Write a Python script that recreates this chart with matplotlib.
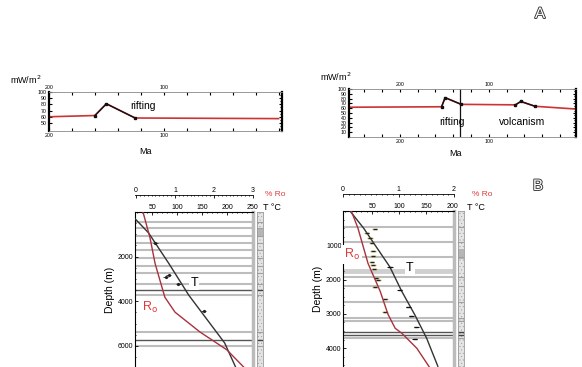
import numpy as np
import matplotlib
matplotlib.use('Agg')
import matplotlib.pyplot as plt
import matplotlib.patheffects as pe
from matplotlib.ticker import MultipleLocator, FuncFormatter

plt.rcParams['font.family'] = ['Liberation Sans', 'DejaVu Sans']
plt.rcParams['hatch.linewidth'] = 0.3

# ---- panel A: heat flow history (Ma, mW/m2)
ma_left = [200, 160, 150, 125, 0]
hf_left = [60, 62, 81, 58, 57]
ma_right = [257, 153, 149, 131, 70, 64, 48, 0]
hf_right = [62, 63, 82, 68, 67, 74, 64, 58]
break_right = 132

# ---- panel B, left well
t_depth_l = [300, 930, 2310, 3730, 5870, 6950]
t_l = [15, 42, 83, 123, 195, 217]
ro_depth_l = [0, 1160, 2310, 3820, 4490, 5380, 6180, 6950]
ro_l = [0.18, 0.36, 0.49, 0.74, 1.0, 1.64, 2.33, 2.76]
bht_depth_l = [1380, 2840, 2930, 3240, 4440]
bht_l = [56, 83, 77, 102, 153]
layers_l = [430, 730, 1070, 1390, 1700, 2060, 2400, 2740, 3240, 3730, 5360, 5990]
dark_layers_l = [3510, 5730]

# ---- panel B, right well
t_depth_r = [0, 495, 1632, 2341, 3020, 3703, 4528]
t_r = [9, 34, 83, 105, 129, 151, 172]
ro_depth_r = [0, 504, 1525, 2341, 3012, 3420, 3566, 4003, 4586]
ro_r = [0.15, 0.27, 0.45, 0.67, 0.81, 0.94, 1.06, 1.33, 1.57]
meas_depth_r = [525, 640, 786, 932, 1175, 1320, 1486, 1563, 1680, 1953, 2000, 2224, 2554, 2953]
meas_r = [55, 40, 46, 49, 52, 52, 49, 52, 54, 58, 61, 55, 74, 74]
bht_depth_r = [1632, 2312, 2808, 3070, 3382, 3720]
bht_r = [83, 101, 117, 123, 132, 129]
layers_r = [460, 900, 1350, 1925, 2180, 2640, 3125, 3220, 3710]
thick_layers_r = [1760]
dark_layers_r = [3515, 3615]

W, H = 582, 367
fig = plt.figure(figsize=(W / 100, H / 100), dpi=100)


def box(x0, y0, x1, y1):
    return [x0 / W, 1 - y1 / H, (x1 - x0) / W, (y1 - y0) / H]


def heat_panel(rect, ma, hf, xlim, ylim, yticks, black_segs):
    ax = fig.add_axes(rect)
    ax.plot(ma, hf, color='#cc3333', lw=1.2)
    for i0, i1 in black_segs:
        ax.plot(ma[i0:i1 + 1], hf[i0:i1 + 1], color='#111111', lw=1.0,
                marker='s', ms=1.6)
    ax.set_xlim(xlim)
    ax.set_ylim(ylim)
    ax.xaxis.set_major_locator(MultipleLocator(20))
    ax.xaxis.set_major_formatter(FuncFormatter(
        lambda v, p: str(int(round(v))) if int(round(v)) in (100, 200) else ''))
    ax.set_yticks(yticks)
    ax.yaxis.set_minor_locator(MultipleLocator(5))
    ax.tick_params(axis='both', which='both', labelsize=3.8, top=True,
                   labeltop=True, right=True, direction='in', length=2.5,
                   width=0.8, pad=1.5)
    ax.tick_params(axis='y', which='minor', length=1.5, left=False)
    for s in ('left', 'right'):
        ax.spines[s].set_linewidth(1.6)
    for s in ('top', 'bottom'):
        ax.spines[s].set_linewidth(0.6)
        ax.spines[s].set_color('#888888')
    return ax


axl = heat_panel(box(49, 92, 282, 131), ma_left, hf_left, (200, -3), (37, 100),
                 range(50, 101, 10), [(1, 3)])
axl.text(118, 77, 'rifting', fontsize=7.5, ha='center', va='center')

axr = heat_panel(box(349, 89, 576, 137), ma_right, hf_right, (257, 2), (0, 100),
                 range(10, 101, 10), [(1, 3), (4, 6)])
axr.axvline(break_right, color='#111111', lw=0.9)
axr.text(141, 31, 'rifting', fontsize=7.5, ha='center', va='center')
axr.text(63, 31, 'volcanism', fontsize=7.5, ha='center', va='center')

fig.text(10 / W, 1 - 80 / H, 'mW/m$^2$', fontsize=6.5, va='center')
fig.text(320 / W, 1 - 77 / H, 'mW/m$^2$', fontsize=6.5, va='center')
fig.text(146 / W, 1 - 152 / H, 'Ma', fontsize=6.5, ha='center', va='center')
fig.text(456 / W, 1 - 153 / H, 'Ma', fontsize=6.5, ha='center', va='center')


def well_panel(rect, crect, tlim, rolim, dmax, tticks, roticks, dstep,
               layers, dark_layers, thick_layers, dark_band):
    ax = fig.add_axes(rect)
    ax.set_xlim(tlim)
    ax.set_ylim(dmax, 0)
    for d in layers:
        ax.axhline(d, color='#bdbdbd', lw=1.5, zorder=1)
    for d in thick_layers:
        ax.axhline(d, color='#cfcfcf', lw=3.5, zorder=1)
    for d in dark_layers:
        ax.axhline(d, color='#555555', lw=1.0, zorder=1)
    ax.spines['bottom'].set_visible(False)
    ax.spines['right'].set_color('#bbbbbb')
    ax.spines['right'].set_linewidth(2.5)
    ax.spines['left'].set_linewidth(0.8)
    ax.spines['top'].set_linewidth(0.8)
    ax.set_ylabel('Depth (m)', fontsize=7.5, labelpad=2)

    ax2 = ax.twiny()
    ax2.set_xlim(rolim)
    ax2.spines['top'].set_position(('outward', 12))
    for s in ('left', 'right', 'bottom'):
        ax2.spines[s].set_visible(False)
    ax2.spines['top'].set_linewidth(0.6)
    ax2.set_xticks(roticks)
    ax2.xaxis.set_minor_locator(MultipleLocator(0.1))
    ax2.tick_params(axis='x', which='both', labelsize=5, direction='in',
                    length=2, width=0.6, pad=1)
    ax2.tick_params(axis='x', which='minor', length=1)

    # twiny moves the host ticks to the bottom, put them back on top
    ax.xaxis.tick_top()
    ax.set_xticks(tticks)
    ax.xaxis.set_minor_locator(MultipleLocator(10))
    ax.yaxis.set_major_locator(MultipleLocator(dstep))
    ax.yaxis.set_major_formatter(FuncFormatter(
        lambda v, p: '' if v <= 0 else str(int(v))))
    ax.yaxis.set_minor_locator(MultipleLocator(dstep / 4))
    ax.tick_params(axis='both', which='both', labelsize=5, direction='in',
                   length=2, width=0.6, pad=1)
    ax.tick_params(axis='both', which='minor', length=1)

    col = fig.add_axes(crect)
    col.set_xlim(0, 1)
    col.set_ylim(dmax, 0)
    col.fill_betweenx([0, dmax], 0, 1, facecolor='#e4e4e4', hatch='.....',
                      edgecolor='#9a9a9a', lw=0)
    col.fill_betweenx(dark_band, 0, 1, facecolor='#b5b5b5', lw=0)
    for d in layers:
        col.axhline(d, color='#a0a0a0', lw=0.8)
    for d in dark_layers:
        col.axhline(d, color='#444444', lw=1.0)
    col.set_xticks([])
    col.set_yticks([])
    for s in col.spines.values():
        s.set_color('#999999')
        s.set_linewidth(0.6)
    col.spines['bottom'].set_visible(False)
    return ax, ax2


bl, bl2 = well_panel(box(135, 212, 253, 367), box(257, 212, 263, 367),
                     (15, 252), (-0.025, 3.0), 6950, [50, 100, 150, 200, 250],
                     [0, 1, 2, 3], 2000, layers_l, dark_layers_l, [], (700, 1100))
bl.plot(t_l, t_depth_l, color='#333333', lw=1.0, zorder=3)
bl.errorbar(bht_l, bht_depth_l, xerr=5, fmt='o', ms=1.3, color='#222222',
            elinewidth=0.6, capsize=0, zorder=4)
bl2.plot(ro_l, ro_depth_l, color='#a8323e', lw=1.0)
bl.text(134, 3180, 'T', fontsize=9, ha='center', va='center', zorder=5,
        bbox=dict(facecolor='white', edgecolor='none', pad=1))
bl.text(45, 4300, 'R$_\\mathrm{o}$', fontsize=9, color='#e03a3a',
        ha='center', va='center', zorder=5,
        bbox=dict(facecolor='white', edgecolor='none', pad=1))

br, br2 = well_panel(box(343, 211, 454, 367), box(458, 211, 464, 367),
                     (-4, 202), (0, 2.0), 4550, [50, 100, 150, 200],
                     [0, 1, 2], 1000, layers_r, dark_layers_r, thick_layers_r,
                     (1100, 1400))
br.plot(t_r, t_depth_r, color='#333333', lw=1.0, zorder=3)
br.errorbar(meas_r, meas_depth_r, xerr=5, fmt='_', ms=3, color='#222222',
            ecolor='#c9c24a', elinewidth=1.0, capsize=0, zorder=4)
br.errorbar(bht_r, bht_depth_r, xerr=5, fmt='_', ms=3, color='#111111',
            elinewidth=0.7, capsize=0, zorder=4)
br2.plot(ro_r, ro_depth_r, color='#a8323e', lw=1.0)
br.text(120, 1670, 'T', fontsize=9, ha='center', va='center', zorder=5,
        bbox=dict(facecolor='white', edgecolor='none', pad=1))
br.text(12, 1260, 'R$_\\mathrm{o}$', fontsize=9, color='#e03a3a',
        ha='center', va='center', zorder=5,
        bbox=dict(facecolor='white', edgecolor='none', pad=1.5))

for x in (265, 472):
    fig.text(x / W, 1 - 195 / H, '% Ro', fontsize=6, color='#e03a3a', va='center')
for x in (263, 467):
    fig.text(x / W, 1 - 207 / H, 'T \u00b0C', fontsize=6.5, va='center')

outline = [pe.withStroke(linewidth=1.3, foreground='#333333')]
fig.text(540 / W, 1 - 14 / H, 'A', fontsize=11, color='white', ha='center',
         va='center', path_effects=outline)
fig.text(538 / W, 1 - 186 / H, 'B', fontsize=11, color='white', ha='center',
         va='center', path_effects=outline)

fig.savefig('out.png', dpi=100)
